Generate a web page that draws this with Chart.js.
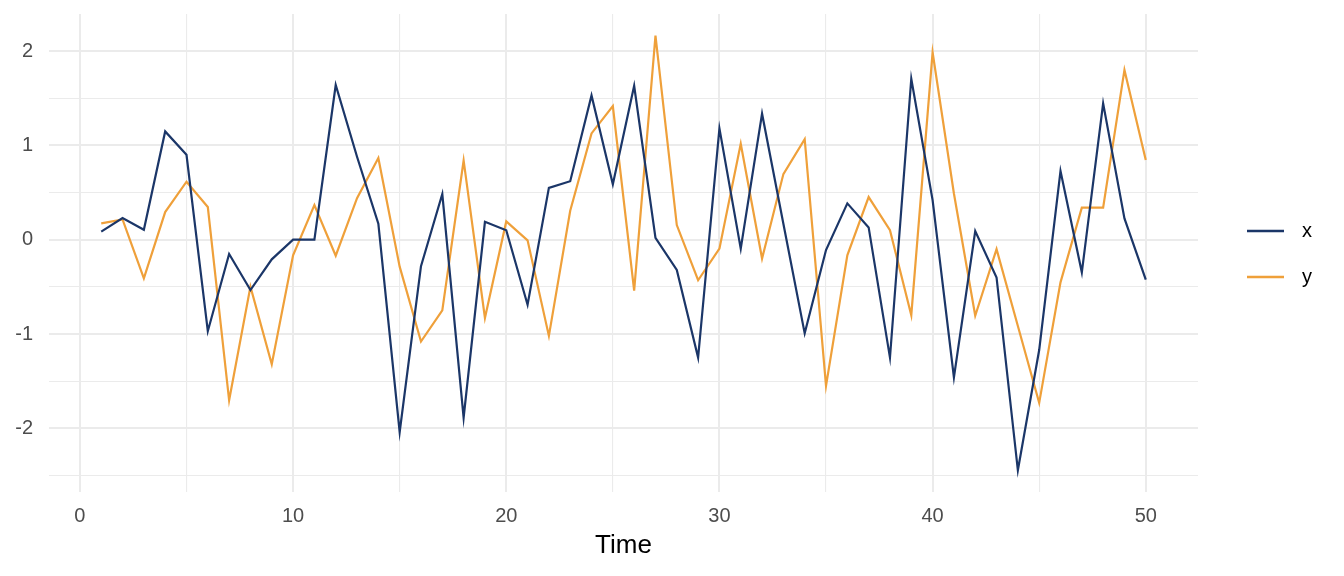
<!DOCTYPE html>
<html>
<head>
<meta charset="utf-8">
<script src="https://cdn.jsdelivr.net/npm/chart.js@4/dist/chart.umd.min.js"></script>
<style>
    html, body { margin: 0; padding: 0; background: #ffffff; }
    #wrap { width: 1344px; height: 576px; }
</style>
</head>
<body>
<div id="wrap"><canvas id="tsChart" width="1344" height="576"></canvas></div>
<script>
// time index and the two series
const timeSteps = [1, 2, 3, 4, 5, 6, 7, 8, 9, 10, 11, 12, 13, 14, 15, 16, 17, 18, 19, 20, 21, 22, 23, 24, 25,
    26, 27, 28, 29, 30, 31, 32, 33, 34, 35, 36, 37, 38, 39, 40, 41, 42, 43, 44, 45, 46, 47, 48, 49, 50];

const xValues = [0.085, 0.23, 0.106, 1.148, 0.90, -0.97, -0.152, -0.534, -0.208, 0.0,
    0.0, 1.64, 0.88, 0.17, -2.04, -0.28, 0.484, -1.887, 0.19, 0.10,
    -0.69, 0.55, 0.62, 1.53, 0.587, 1.632, 0.02, -0.32, -1.25, 1.18,
    -0.095, 1.336, 0.17, -0.993, -0.11, 0.385, 0.13, -1.25, 1.707, 0.42,
    -1.46, 0.092, -0.40, -2.445, -1.17, 0.728, -0.346, 1.445, 0.226, -0.424];

const yValues = [0.173, 0.215, -0.41, 0.293, 0.615, 0.346, -1.703, -0.498, -1.32, -0.166,
    0.367, -0.17, 0.44, 0.866, -0.286, -1.08, -0.75, 0.84, -0.83, 0.194,
    -0.007, -1.02, 0.307, 1.127, 1.417, -0.54, 2.163, 0.155, -0.43, -0.095,
    1.018, -0.2, 0.696, 1.067, -1.55, -0.166, 0.452, 0.10, -0.80, 1.986,
    0.49, -0.806, -0.10, -0.915, -1.73, -0.452, 0.34, 0.34, 1.80, 0.845];

const seriesNames = ["x", "y"];
const seriesColors = ["#1B3668", "#EFA03A"];

const xTicks = [0, 5, 10, 15, 20, 25, 30, 35, 40, 45, 50];
const yTicks = [-2.5, -2, -1.5, -1, -0.5, 0, 0.5, 1, 1.5, 2];

const gridColor = "#EBEBEB";

// legend drawn to the right, ggplot style
const sideLegend = {
    id: "sideLegend",
    afterDraw(chart) {
        const ctx = chart.ctx;
        ctx.save();
        chart.data.datasets.forEach((ds, i) => {
            const cy = 231 + i * 46;
            ctx.strokeStyle = ds.borderColor;
            ctx.lineWidth = 2.4;
            ctx.beginPath();
            ctx.moveTo(1247, cy);
            ctx.lineTo(1284, cy);
            ctx.stroke();
            ctx.fillStyle = "#000000";
            ctx.font = "20px 'Liberation Sans', Arial, sans-serif";
            ctx.textAlign = "left";
            ctx.textBaseline = "middle";
            ctx.fillText(ds.label, 1302, cy);
        });
        ctx.restore();
    }
};

const datasets = [xValues, yValues].map((vals, i) => ({
    label: seriesNames[i],
    data: timeSteps.map((t, k) => ({ x: t, y: vals[k] })),
    borderColor: seriesColors[i],
    backgroundColor: seriesColors[i],
    borderWidth: 2.2,
    pointRadius: 0,
    tension: 0,
    fill: false
}));

new Chart(document.getElementById("tsChart"), {
    type: "line",
    data: { datasets: datasets },
    options: {
        responsive: false,
        animation: false,
        devicePixelRatio: 1,
        layout: { padding: { left: 0, top: 14, right: 146, bottom: 0 } },
        plugins: {
            legend: { display: false },
            tooltip: { enabled: false }
        },
        scales: {
            x: {
                type: "linear",
                min: -1.45,
                max: 52.45,
                afterBuildTicks: scale => { scale.ticks = xTicks.map(v => ({ value: v })); },
                afterFit: scale => {
                    scale.height = 84;
                    scale.paddingLeft = 0;
                    scale.paddingRight = 0;
                },
                border: { display: false },
                grid: {
                    color: gridColor,
                    lineWidth: c => (c.tick && c.tick.value % 10 === 0 ? 2 : 1.1),
                    drawTicks: false
                },
                ticks: {
                    padding: 12,
                    color: "#4D4D4D",
                    font: { family: "'Liberation Sans', Arial, sans-serif", size: 20 },
                    maxRotation: 0,
                    autoSkip: false,
                    callback: v => (v % 10 === 0 ? String(v) : "")
                },
                title: {
                    display: true,
                    text: "Time",
                    color: "#000000",
                    font: { family: "'Liberation Sans', Arial, sans-serif", size: 26 },
                    padding: { top: 0, bottom: 15 }
                }
            },
            y: {
                type: "linear",
                min: -2.675,
                max: 2.393,
                afterBuildTicks: scale => { scale.ticks = yTicks.map(v => ({ value: v })); },
                afterFit: scale => {
                    scale.width = 49;
                    scale.paddingTop = 0;
                    scale.paddingBottom = 0;
                },
                border: { display: false },
                grid: {
                    color: gridColor,
                    lineWidth: c => (c.tick && Number.isInteger(c.tick.value) ? 2 : 1.1),
                    drawTicks: false
                },
                ticks: {
                    padding: 16,
                    color: "#4D4D4D",
                    font: { family: "'Liberation Sans', Arial, sans-serif", size: 20 },
                    autoSkip: false,
                    callback: v => (Number.isInteger(v) ? String(v) : "")
                }
            }
        }
    },
    plugins: [sideLegend]
});
</script>
</body>
</html>
